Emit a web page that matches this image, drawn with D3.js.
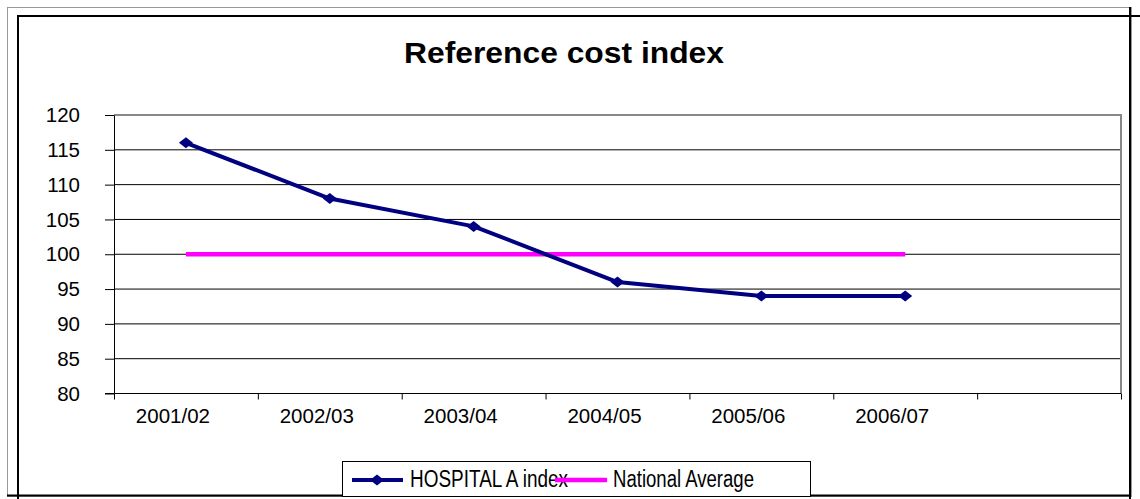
<!DOCTYPE html>
<html>
<head>
<meta charset="utf-8">
<script src="https://cdn.jsdelivr.net/npm/d3@7"></script>
<style>
  body { margin: 0; background: #fff; }
  svg { display: block; font-family: "Liberation Sans", Arial, sans-serif; }
</style>
</head>
<body>
<svg width="1140" height="499"></svg>
<script>
const years = ['2001/02', '2002/03', '2003/04', '2004/05', '2005/06', '2006/07'];
const hospitalIndex = [116, 108, 104, 96, 94, 94];
const nationalAverage = [100, 100, 100, 100, 100, 100];
const yTicks = [80, 85, 90, 95, 100, 105, 110, 115, 120];

const svg = d3.select('svg');

// outer frames
svg.append('rect')
    .attr('x', 7.5).attr('y', 7.5)
    .attr('width', 1124).attr('height', 489)
    .attr('fill', 'none').attr('stroke', '#999').attr('stroke-width', 1);

const frame = [
    [17, 16, 1140, 16],
    [18, 16, 18, 499],
    [1130, 7, 1130, 499],
    [7, 495.5, 1131, 495.5]
];
svg.selectAll('.frame').data(frame).enter().append('line')
    .attr('x1', d => d[0]).attr('y1', d => d[1])
    .attr('x2', d => d[2]).attr('y2', d => d[3])
    .attr('stroke', '#000').attr('stroke-width', 2);

const plotLeft = 114, plotRight = 1121, plotTop = 115, plotBottom = 393.5;

// one extra empty category on the right, like the original
const x = d3.scaleBand()
    .domain(years.concat(['']))
    .range([plotLeft, plotRight]);

const y = d3.scaleLinear()
    .domain([80, 120])
    .range([plotBottom, plotTop]);

// grid lines
svg.append('g')
    .selectAll('line')
    .data(yTicks.slice(1, -1))
    .enter().append('line')
    .attr('x1', plotLeft).attr('x2', plotRight)
    .attr('y1', d => y(d)).attr('y2', d => y(d))
    .attr('stroke', '#000').attr('stroke-width', 1);

// plot area border (top / right)
svg.append('path')
    .attr('d', `M${plotLeft},${plotTop}H${plotRight}V${plotBottom}`)
    .attr('fill', 'none').attr('stroke', '#888').attr('stroke-width', 2);

// y axis
const yAxis = svg.append('g')
    .attr('transform', `translate(${plotLeft},0)`)
    .call(d3.axisLeft(y).tickValues(yTicks).tickSize(9).tickPadding(25).tickSizeOuter(0));
yAxis.select('.domain').attr('stroke', '#000');
yAxis.selectAll('text')
    .attr('font-size', 20.5)
    .attr('font-family', '"Liberation Sans", Arial, sans-serif')
    .attr('fill', '#000');

// x axis: ticks at category boundaries
const bounds = x.domain().map(d => x(d)).concat([plotRight]);
svg.append('line')
    .attr('x1', plotLeft - 9).attr('x2', plotRight)
    .attr('y1', plotBottom).attr('y2', plotBottom)
    .attr('stroke', '#000').attr('stroke-width', 1);
svg.append('g')
    .selectAll('line')
    .data(bounds)
    .enter().append('line')
    .attr('x1', d => d + 0.5).attr('x2', d => d + 0.5)
    .attr('y1', plotBottom).attr('y2', plotBottom + 6)
    .attr('stroke', '#000').attr('stroke-width', 1);

svg.append('g')
    .selectAll('text')
    .data(years)
    .enter().append('text')
    .attr('x', d => x(d) + x.bandwidth() / 2 - 13)
    .attr('y', 422.5)
    .attr('text-anchor', 'middle')
    .attr('font-size', 20.5)
    .text(d => d);

const cx = d => x(d) + x.bandwidth() / 2;

// national average
svg.append('path')
    .datum(nationalAverage)
    .attr('fill', 'none')
    .attr('stroke', '#ff00ff')
    .attr('stroke-width', 4.5)
    .attr('d', d3.line().x((d, i) => cx(years[i])).y(d => y(d)));

// hospital line
svg.append('path')
    .datum(hospitalIndex)
    .attr('fill', 'none')
    .attr('stroke', '#000080')
    .attr('stroke-width', 4)
    .attr('stroke-linejoin', 'round')
    .attr('d', d3.line().x((d, i) => cx(years[i])).y(d => y(d)));

const diamond = 'M0,-5.5L7,0L0,5.5L-7,0Z';
svg.append('g')
    .selectAll('path')
    .data(hospitalIndex)
    .enter().append('path')
    .attr('transform', (d, i) => `translate(${cx(years[i])},${y(d)})`)
    .attr('d', diamond)
    .attr('fill', '#000080');

// title
svg.append('text')
    .attr('x', 564)
    .attr('y', 63)
    .attr('text-anchor', 'middle')
    .attr('font-size', 29)
    .attr('font-weight', 'bold')
    .attr('textLength', 320)
    .attr('lengthAdjust', 'spacingAndGlyphs')
    .text('Reference cost index');

// legend
const legend = svg.append('g');
legend.append('rect')
    .attr('x', 342.5).attr('y', 461.5)
    .attr('width', 468).attr('height', 35)
    .attr('fill', '#fff').attr('stroke', '#000').attr('stroke-width', 1);

legend.append('line')
    .attr('x1', 352).attr('x2', 403).attr('y1', 480).attr('y2', 480)
    .attr('stroke', '#000080').attr('stroke-width', 4);
legend.append('path')
    .attr('transform', 'translate(377,480)')
    .attr('d', diamond)
    .attr('fill', '#000080');
legend.append('text')
    .attr('x', 410).attr('y', 486.5)
    .attr('font-size', 23)
    .attr('textLength', 158)
    .attr('lengthAdjust', 'spacingAndGlyphs')
    .text('HOSPITAL A index');

legend.append('line')
    .attr('x1', 555).attr('x2', 607).attr('y1', 480).attr('y2', 480)
    .attr('stroke', '#ff00ff').attr('stroke-width', 4.5);
legend.append('text')
    .attr('x', 613).attr('y', 486.5)
    .attr('font-size', 23)
    .attr('textLength', 141)
    .attr('lengthAdjust', 'spacingAndGlyphs')
    .text('National Average');
</script>
</body>
</html>
